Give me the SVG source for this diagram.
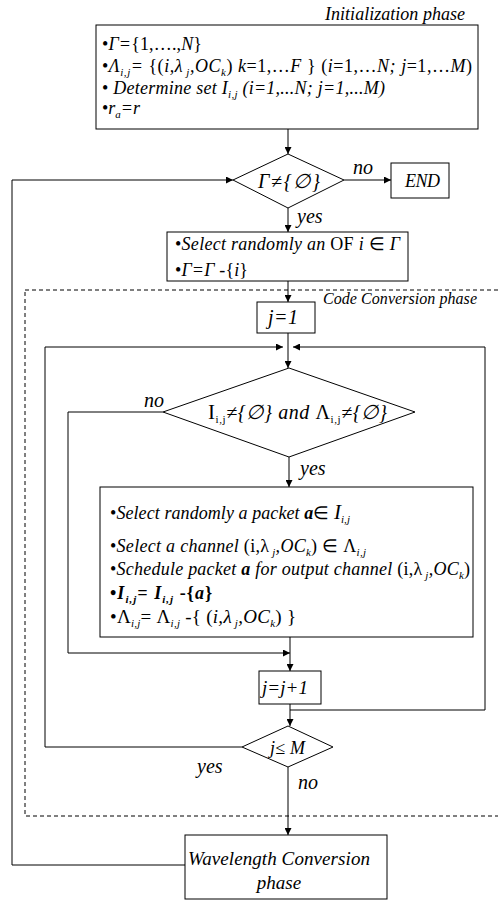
<svg xmlns="http://www.w3.org/2000/svg" width="498" height="902" viewBox="0 0 498 902">
<defs>
<style>
text{font-family:"Liberation Serif","Times New Roman",serif;font-style:italic;fill:#000}
.s16{font-size:16px}
.s18{font-size:18px}
.s19{font-size:19px}
.s20{font-size:20px}
.up{font-style:normal}
.bd{font-weight:bold}
.sb{font-size:11px}
.box{fill:#fff;stroke:#000;stroke-width:1}
.dash{fill:none;stroke:#000;stroke-width:1;stroke-dasharray:4,3}
.c{fill:none;stroke:#000;stroke-width:1}
</style>
<marker id="ar" viewBox="0 0 10 10" refX="10" refY="5" markerWidth="8" markerHeight="7" orient="auto" markerUnits="userSpaceOnUse">
<path d="M0,0 L10,5 L0,10 z" fill="#000"/>
</marker>
</defs>
<rect width="498" height="902" fill="#fff"/>

<g id="phase-labels">
<text class="s18" x="325" y="20" textLength="140">Initialization phase</text>
<text class="s16" x="323" y="304" textLength="154">Code Conversion phase</text>
</g>

<g id="code-conversion-region">
<rect class="dash" x="25" y="290" width="485" height="526"/>
</g>

<g id="init">
<rect class="box" x="96" y="25" width="382" height="104"/>
<text class="s18" x="102" y="50" textLength="100"><tspan class="up">•</tspan>Γ=<tspan class="up">{1,….,</tspan>N<tspan class="up">}</tspan></text>
<text class="s18" x="102" y="72" textLength="370"><tspan class="up">•</tspan>Λ<tspan class="sb" dy="4">i,j</tspan><tspan dy="-4">= </tspan><tspan class="up">{(</tspan>i,λ<tspan class="sb" dy="4"> j</tspan><tspan dy="-4">,OC</tspan><tspan class="sb" dy="4">k</tspan><tspan dy="-4" class="up">)  </tspan>k<tspan class="up">=1,…</tspan>F <tspan class="up">} (</tspan>i<tspan class="up">=1,…</tspan>N; j<tspan class="up">=1,…</tspan>M<tspan class="up">)</tspan></text>
<text class="s18" x="102" y="94" textLength="283"><tspan class="up">• </tspan>Determine  set I<tspan class="sb" dy="4">i,j</tspan><tspan dy="-4"> (i=1,...N; j=1,...M)</tspan></text>
<text class="s18" x="102" y="114" textLength="38"><tspan class="up">•</tspan>r<tspan class="sb" dy="4">a</tspan><tspan dy="-4">=r</tspan></text>
</g>

<g id="cond-gamma">
<polygon class="box" points="288,154 344,180 288,208 233,180"/>
<text class="s20" x="258" y="188" textLength="62">Γ≠{∅}</text>
</g>

<g id="end">
<rect class="box" x="391" y="163" width="58" height="35"/>
<text class="s18" x="405" y="187" textLength="35">END</text>
</g>

<g id="select-of">
<rect class="box" x="167" y="232" width="241" height="49"/>
<text class="s18" x="175" y="250" textLength="225"><tspan class="up">•</tspan>Select randomly an <tspan class="up">OF </tspan>i <tspan class="up">∈ </tspan>Γ</text>
<text class="s18" x="175" y="276" textLength="73"><tspan class="up">•</tspan>Γ=Γ <tspan class="up">-{</tspan>i<tspan class="up">}</tspan></text>
</g>

<g id="j-init">
<rect class="box" x="257" y="302" width="58" height="31"/>
<text class="s20" x="268" y="324" textLength="30">j=1</text>
</g>

<g id="cond-sets">
<polygon class="box" points="289,368 415,412 289,457 163,412"/>
<text class="s20" x="208" y="419" textLength="179"><tspan class="up" style="font-size:21px">I</tspan><tspan class="sb up" dy="4">i,j</tspan><tspan dy="-4">≠{∅} and </tspan><tspan class="up">Λ</tspan><tspan class="sb up" dy="4">i,j</tspan><tspan dy="-4">≠{∅}</tspan></text>
</g>

<g id="schedule">
<rect class="box" x="100" y="487" width="373" height="150"/>
<text class="s18" x="110" y="519" textLength="240"><tspan class="up">•</tspan>Select randomly a packet <tspan class="bd">a</tspan><tspan class="up">∈ </tspan><tspan style="font-size:21px">I</tspan><tspan class="sb" dy="4">i,j</tspan></text>
<text class="s18" x="110" y="552" textLength="256"><tspan class="up">•</tspan>Select a channel  <tspan class="up">(i,λ</tspan><tspan class="sb" dy="4"> j</tspan><tspan dy="-4">,OC</tspan><tspan class="sb" dy="4">k</tspan><tspan dy="-4" class="up">)  ∈ Λ</tspan><tspan class="sb" dy="4">i,j</tspan></text>
<text class="s18" x="110" y="575" textLength="360"><tspan class="up">•</tspan>Schedule packet <tspan class="bd">a</tspan> for output channel <tspan class="up">(i,λ</tspan><tspan class="sb" dy="4"> j</tspan><tspan dy="-4">,OC</tspan><tspan class="sb" dy="4">k</tspan><tspan dy="-4" class="up">)</tspan></text>
<text class="s18 bd" x="110" y="599" textLength="102"><tspan class="up">•</tspan>I<tspan class="sb" dy="4">i,j</tspan><tspan dy="-4">= I</tspan><tspan class="sb" dy="4">i,j</tspan><tspan dy="-4" class="up"> -{</tspan>a<tspan class="up">}</tspan></text>
<text class="s19" x="110" y="623" textLength="186"><tspan class="up">•Λ</tspan><tspan class="sb" dy="4">i,j</tspan><tspan dy="-4" class="up">= Λ</tspan><tspan class="sb" dy="4">i,j</tspan><tspan dy="-4" class="up"> -{ (</tspan>i,λ<tspan class="sb" dy="4"> j</tspan><tspan dy="-4">,OC</tspan><tspan class="sb" dy="4">k</tspan><tspan dy="-4" class="up">) }</tspan></text>
</g>

<g id="j-inc">
<rect class="box" x="259" y="671" width="62" height="33"/>
<text class="s19" x="262" y="694" textLength="46">j=j+1</text>
</g>

<g id="cond-j">
<polygon class="box" points="288,726 333,747 288,767 242,747"/>
<text class="s18" x="270" y="754" textLength="35">j≤ M</text>
</g>

<g id="wavelength">
<rect class="box" x="185" y="835" width="202" height="64"/>
<text class="s19" x="188" y="865" textLength="182">Wavelength Conversion</text>
<text class="s19" x="279" y="889" text-anchor="middle">phase</text>
</g>

<g id="connectors">
<line class="c" x1="288" y1="129" x2="288" y2="154" marker-end="url(#ar)"/>
<line class="c" x1="344" y1="180" x2="391" y2="180" marker-end="url(#ar)"/>
<line class="c" x1="288" y1="208" x2="288" y2="232" marker-end="url(#ar)"/>
<line class="c" x1="288" y1="281" x2="288" y2="302" marker-end="url(#ar)"/>
<line class="c" x1="288" y1="333" x2="288" y2="368" marker-end="url(#ar)"/>
<polyline class="c" points="242,747 45,747 45,347 283,347" marker-end="url(#ar)"/>
<polyline class="c" points="290,704 290,710 485,710 485,347 293,347" marker-end="url(#ar)"/>
<line class="c" x1="289" y1="457" x2="289" y2="487" marker-end="url(#ar)"/>
<polyline class="c" points="163,412 68,412 68,653 290,653" marker-end="url(#ar)"/>
<line class="c" x1="290" y1="637" x2="290" y2="671" marker-end="url(#ar)"/>
<line class="c" x1="290" y1="710" x2="290" y2="726" marker-end="url(#ar)"/>
<line class="c" x1="288" y1="767" x2="288" y2="835" marker-end="url(#ar)"/>
<polyline class="c" points="185,865 12,865 12,180 233,180" marker-end="url(#ar)"/>
<text class="s20" x="353" y="174">no</text>
<text class="s20" x="297" y="223">yes</text>
<text class="s20" x="144" y="407">no</text>
<text class="s20" x="300" y="475">yes</text>
<text class="s20" x="197" y="773">yes</text>
<text class="s20" x="298" y="789">no</text>
</g>
</svg>
